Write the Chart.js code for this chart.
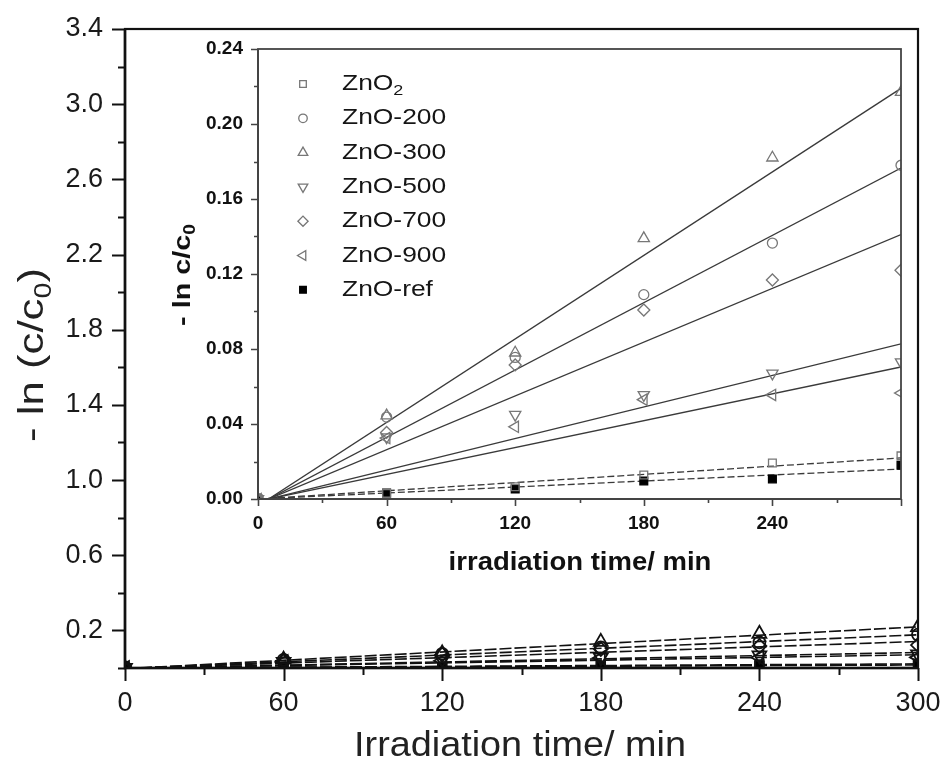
<!DOCTYPE html>
<html>
<head>
<meta charset="utf-8">
<script src="https://cdn.jsdelivr.net/npm/chart.js@4.4.1/dist/chart.umd.min.js"></script>
<style>
  html, body { margin: 0; padding: 0; background: #fff; }
  #wrap { position: relative; width: 946px; height: 776px; }
  #main { position: absolute; left: 0; top: 0; }
  #inset { position: absolute; left: 150px; top: 32px; }
</style>
</head>
<body>
<div id="wrap">
  <canvas id="main" width="946" height="776"></canvas>
  <canvas id="inset" width="762" height="560"></canvas>
</div>
<script>
// irradiation times (min)
const times = [0, 60, 120, 180, 240, 300];

// -ln(c/c0) measured for each sample
const zno2   = [0, 0.0030, 0.0065, 0.0128, 0.0192, 0.0230];
const zno200 = [0, 0.0437, 0.0755, 0.1090, 0.1365, 0.1780];
const zno300 = [0, 0.0445, 0.0780, 0.1390, 0.1820, 0.2170];
const zno500 = [0, 0.0330, 0.0450, 0.0555, 0.0670, 0.0730];
const zno700 = [0, 0.0355, 0.0715, 0.1008, 0.1168, 0.1220];
const zno900 = [0, 0.0325, 0.0385, 0.0530, 0.0555, 0.0565];
const znoRef = [0, 0.0032, 0.0053, 0.0096, 0.0107, 0.0180];

const names = ['ZnO2', 'ZnO-200', 'ZnO-300', 'ZnO-500', 'ZnO-700', 'ZnO-900', 'ZnO-ref'];
const measured = [zno2, zno200, zno300, zno500, zno700, zno900, znoRef];

// linear fits, value at t = 0 and t = 300 min
const fitT = [0, 300];
const fitAt0   = [0, -0.0030, -0.0037, -0.0014, -0.0024, -0.0012, 0];
const fitAt300 = [0.0219, 0.1765, 0.2190, 0.0827, 0.1410, 0.0704, 0.0160];

// marker look per sample
const shapes = ['rect', 'circle', 'triangle', 'triangle', 'rectRot', 'triangle', 'rect'];
const turns  = [0, 0, 0, 180, 0, -90, 0];
const dashed = [true, false, false, false, false, false, true];

const FONT = 'Liberation Sans';

function toPoints(xs, ys) {
  return xs.map((x, i) => ({ x: x, y: ys[i] }));
}

function buildDatasets(look) {
  const sets = [];
  measured.forEach((vals, i) => {
    const filled = names[i] === 'ZnO-ref';
    sets.push({
      label: names[i],
      data: toPoints(times, vals),
      pointStyle: shapes[i],
      rotation: turns[i],
      pointRadius: look.radius[shapes[i]],
      pointBorderWidth: look.markerWidth,
      pointBorderColor: filled ? '#000' : look.markerColor,
      pointBackgroundColor: filled ? '#000' : 'rgba(0,0,0,0)',
      showLine: false,
      clip: 0,
      order: 0
    });
  });
  measured.forEach((vals, i) => {
    sets.push({
      label: names[i] + ' fit',
      data: toPoints(fitT, [fitAt0[i], fitAt300[i]]),
      showLine: true,
      pointRadius: 0,
      borderColor: look.lineColor,
      borderWidth: look.lineWidth,
      borderDash: look.dashAll ? look.dash : (dashed[i] ? look.dash : []),
      clip: 0,
      order: 1
    });
  });
  return sets;
}

// text with optional subscript runs, centred on (cx, cy)
function richText(ctx, parts, cx, cy, o) {
  const size = o.size, weight = o.weight || 'normal';
  const big = weight + ' ' + size + 'px "' + FONT + '"';
  const small = weight + ' ' + Math.round(size * 0.66) + 'px "' + FONT + '"';
  ctx.save();
  ctx.translate(cx, cy);
  if (o.rotate) ctx.rotate(o.rotate);
  ctx.scale(o.stretch || 1, 1);
  let total = 0;
  parts.forEach(p => { ctx.font = p[1] ? small : big; total += ctx.measureText(p[0]).width; });
  let x = o.align === 'left' ? 0 : -total / 2;
  ctx.fillStyle = o.color || '#111';
  ctx.textAlign = 'left';
  ctx.textBaseline = 'middle';
  parts.forEach(p => {
    ctx.font = p[1] ? small : big;
    ctx.fillText(p[0], x, p[1] ? size * 0.33 : 0);
    x += ctx.measureText(p[0]).width;
  });
  ctx.restore();
}

function labelParts(name) {
  const m = name.match(/^(ZnO)(\d)$/);
  return m ? [[m[1]], [m[2], true]] : [[name]];
}

// fixed axis sizes; the plot box is placed by layout.padding only
function fixX(h) {
  return s => { s.height = h; s.paddingLeft = 0; s.paddingRight = 0; };
}
function fixY(w) {
  return s => { s.width = w; s.paddingTop = 0; s.paddingBottom = 0; };
}

// axis box with outward major / minor ticks
const frame = {
  id: 'frame',
  afterDatasetsDraw(chart, args, o) {
    const { ctx, chartArea: a, scales } = chart;
    const x = scales.x, y = scales.y;
    ctx.save();
    ctx.strokeStyle = o.color;
    ctx.lineCap = 'butt';
    ctx.lineWidth = o.tickWidth;
    ctx.beginPath();
    x.ticks.forEach(t => {
      const px = Math.round(x.getPixelForValue(t.value)) + 0.5;
      const len = o.majorX(t.value) ? o.major : o.minor;
      ctx.moveTo(px, a.bottom);
      ctx.lineTo(px, a.bottom + len);
    });
    y.ticks.forEach(t => {
      const py = Math.round(y.getPixelForValue(t.value)) + 0.5;
      const len = o.majorY(t.value) ? o.major : o.minor;
      ctx.moveTo(a.left, py);
      ctx.lineTo(a.left - len, py);
    });
    ctx.stroke();
    ctx.lineWidth = o.boxWidth;
    ctx.strokeRect(a.left, a.top, a.right - a.left, a.bottom - a.top);
    ctx.lineWidth = o.axisWidth;
    ctx.beginPath();
    ctx.moveTo(a.left, a.top);
    ctx.lineTo(a.left, a.bottom);
    ctx.lineTo(a.right, a.bottom);
    ctx.stroke();
    ctx.restore();
  },
  afterDraw(chart, args, o) {
    if (o.texts) o.texts(chart.ctx, chart);
  }
};
Chart.register(frame);

// main plot
new Chart(document.getElementById('main'), {
  type: 'scatter',
  data: {
    datasets: buildDatasets({
      radius: { rect: 6, circle: 6, triangle: 8, rectRot: 7 },
      markerWidth: 1.8,
      markerColor: '#111',
      lineColor: '#111',
      lineWidth: 1.6,
      dash: [12, 3],
      dashAll: true
    })
  },
  options: {
    responsive: false,
    animation: false,
    events: [],
    layout: { autoPadding: false, padding: { left: 0, top: 29, right: 28, bottom: 0 } },
    scales: {
      x: {
        type: 'linear', min: 0, max: 300,
        grid: { display: false, drawTicks: false },
        border: { display: false },
        ticks: {
          stepSize: 30, autoSkip: false, maxRotation: 0, padding: 19,
          color: '#1a1a1a', font: { family: FONT, size: 27 },
          callback: v => (v % 60 === 0 ? String(v) : '')
        },
        afterFit: fixX(108)
      },
      y: {
        type: 'linear', min: 0, max: 3.4,
        grid: { display: false, drawTicks: false },
        border: { display: false },
        ticks: {
          stepSize: 0.2, autoSkip: false, padding: 22,
          color: '#1a1a1a', font: { family: FONT, size: 27 },
          callback: v => (Math.round(v * 10) % 4 === 2 ? v.toFixed(1) : '')
        },
        afterFit: fixY(125)
      }
    },
    plugins: {
      legend: { display: false },
      tooltip: { enabled: false },
      frame: {
        color: '#111', tickWidth: 2, boxWidth: 2.2, axisWidth: 2.6, major: 13, minor: 7,
        majorX: v => v % 60 === 0,
        majorY: v => Math.round(v * 10) % 4 === 2,
        texts: ctx => {
          richText(ctx, [['Irradiation time/ min']], 520, 746, { size: 35, stretch: 1.08, color: '#222' });
          richText(ctx, [['- ln (c/c'], ['0', true], [')']], 33, 355,
            { size: 35, stretch: 1.25, rotate: -Math.PI / 2, color: '#222' });
        }
      }
    }
  }
});

// inset: zoomed view of the same data
const OX = 150, OY = 32;
new Chart(document.getElementById('inset'), {
  type: 'scatter',
  data: {
    datasets: buildDatasets({
      radius: { rect: 5.5, circle: 5, triangle: 6.5, rectRot: 6 },
      markerWidth: 1.3,
      markerColor: '#777',
      lineColor: '#3a3a3a',
      lineWidth: 1.3,
      dash: [7, 3],
      dashAll: false
    })
  },
  options: {
    responsive: false,
    animation: false,
    events: [],
    layout: { autoPadding: false, padding: { left: 0, top: 17, right: 11, bottom: 0 } },
    scales: {
      x: {
        type: 'linear', min: 0, max: 300,
        grid: { display: false, drawTicks: false },
        border: { display: false },
        ticks: {
          stepSize: 30, autoSkip: false, maxRotation: 0, padding: 13,
          color: '#111', font: { family: FONT, size: 19, weight: 'bold' },
          callback: v => (v % 60 === 0 && v < 300 ? String(v) : '')
        },
        afterFit: fixX(93)
      },
      y: {
        type: 'linear', min: 0, max: 0.24,
        grid: { display: false, drawTicks: false },
        border: { display: false },
        ticks: {
          stepSize: 0.02, autoSkip: false, padding: 15,
          color: '#111', font: { family: FONT, size: 19, weight: 'bold' },
          callback: v => (Math.round(v * 100) % 4 === 0 ? v.toFixed(2) : '')
        },
        afterFit: fixY(108)
      }
    },
    plugins: {
      legend: { display: false },
      tooltip: { enabled: false },
      frame: {
        color: '#444', tickWidth: 1.6, boxWidth: 1.8, axisWidth: 2, major: 7, minor: 4,
        majorX: v => v % 60 === 0,
        majorY: v => Math.round(v * 100) % 4 === 0,
        texts: (ctx, chart) => {
          richText(ctx, [['irradiation time/ min']], 580 - OX, 563 - OY,
            { size: 25, weight: 'bold', stretch: 1.1 });
          richText(ctx, [['- ln c/c'], ['0', true]], 183 - OX, 275 - OY,
            { size: 24, weight: 'bold', stretch: 1.2, rotate: -Math.PI / 2 });
          // legend
          const drawPoint = Chart.helpers.drawPoint;
          chart.data.datasets.slice(0, names.length).forEach((ds, i) => {
            const ry = 84 + i * 34.3 - OY;
            ctx.save();
            ctx.strokeStyle = ds.pointBorderColor;
            ctx.fillStyle = ds.pointBackgroundColor;
            ctx.lineWidth = 1.3;
            drawPoint(ctx, { pointStyle: ds.pointStyle, rotation: ds.rotation,
              radius: ds.pointRadius * 0.85, borderWidth: 1.3 }, 303 - OX, ry);
            ctx.restore();
            richText(ctx, labelParts(names[i]), 342 - OX, ry,
              { size: 22, stretch: 1.2, align: 'left', color: '#151515' });
          });
        }
      }
    }
  }
});
</script>
</body>
</html>
